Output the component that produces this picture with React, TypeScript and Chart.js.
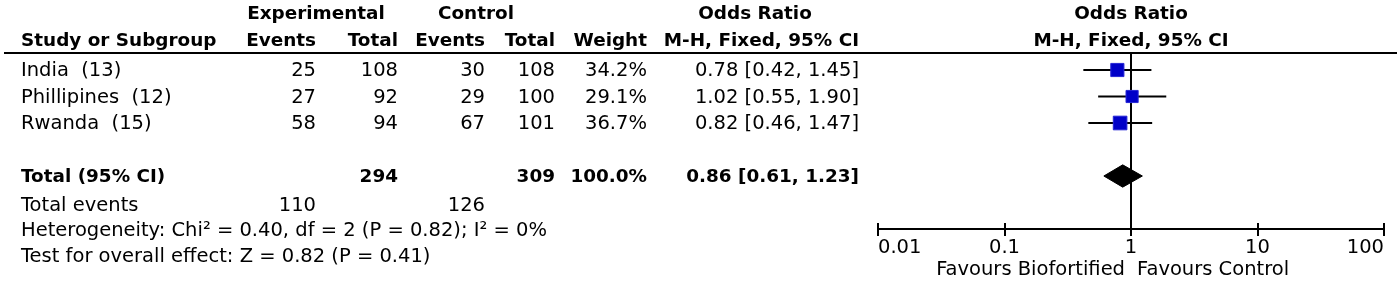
import React, { useEffect, useRef } from 'react';
import { Chart, registerables } from 'chart.js';

Chart.register(...registerables);

// ---------- data ----------
const studies = ['India  (13)', 'Phillipines  (12)', 'Rwanda  (15)'];
const expEvents = [25, 27, 58];
const expTotals = [108, 92, 94];
const ctrlEvents = [30, 29, 67];
const ctrlTotals = [108, 100, 101];
const weights = [34.2, 29.1, 36.7];
const oddsRatios = [0.78, 1.02, 0.82];
const ciLower = [0.42, 0.55, 0.46];
const ciUpper = [1.45, 1.9, 1.47];

const totalLabel = 'Total (95% CI)';
const totalExpTotal = 294;
const totalCtrlTotal = 309;
const totalWeight = 100.0;
const totalOR = 0.86;
const totalLower = 0.61;
const totalUpper = 1.23;
const totalExpEvents = 110;
const totalCtrlEvents = 126;
const heterogeneityText = 'Heterogeneity: Chi\u00B2 = 0.40, df = 2 (P = 0.82); I\u00B2 = 0%';
const overallEffectText = 'Test for overall effect: Z = 0.82 (P = 0.41)';

const tickValues = [0.01, 0.1, 1, 10, 100];
const tickLabels = ['0.01', '0.1', '1', '10', '100'];
const favoursLeft = 'Favours Biofortified';
const favoursRight = 'Favours Control';

// row slots on the plot's y scale (row 4 is the blank spacer)
const studyRows = [1, 2, 3];
const totalRow = 5;

// ---------- layout ----------
const W = 1400;
const H = 281;
const FONT = '"DejaVu Sans", sans-serif';
const REG = 19.5;
const BOLD = 18.4;
const ROW0 = 70;
const PITCH = 26.5;
const HEADER_LINE_Y = 53;
const AXIS_Y = 229;
const PLOT_LEFT = 878;
const PLOT_RIGHT = 1384;
const COL = { expEvents: 316, expTotal: 398, ctrlEvents: 485, ctrlTotal: 555, weight: 647, or: 859 };
const rowY = (r: number) => ROW0 + (r - 1) * PITCH;

const fmt2 = (v: number) => v.toFixed(2);
const orText = (o: number, l: number, h: number) => `${fmt2(o)} [${fmt2(l)}, ${fmt2(h)}]`;

function T({ x, y, align = 'left', bold = false, children }: any) {
  const style: any = {
    position: 'absolute',
    top: y - 12,
    height: 24,
    lineHeight: '24px',
    whiteSpace: 'pre',
    fontSize: bold ? BOLD : REG,
    fontWeight: bold ? 700 : 400,
  };
  if (align === 'left') style.left = x;
  else if (align === 'right') style.right = W - x;
  else {
    style.left = x - 200;
    style.width = 400;
    style.textAlign = 'center';
  }
  return <div style={style}>{children}</div>;
}

const forestPlugin = {
  id: 'forestExtras',
  beforeDatasetsDraw(chart: any) {
    const { ctx, chartArea, scales } = chart;
    const x1 = Math.round(scales.x.getPixelForValue(1));
    ctx.save();
    ctx.strokeStyle = '#000';
    ctx.lineWidth = 2;
    ctx.beginPath();
    ctx.moveTo(x1, chartArea.top);
    ctx.lineTo(x1, chartArea.bottom);
    ctx.stroke();
    ctx.restore();
  },
  afterDraw(chart: any) {
    const { ctx, chartArea, scales } = chart;
    const xs = scales.x;
    ctx.save();
    ctx.strokeStyle = '#000';
    ctx.lineWidth = 2;
    xs.ticks.forEach((t: any) => {
      const px = Math.round(xs.getPixelForValue(t.value));
      ctx.beginPath();
      ctx.moveTo(px, chartArea.bottom - 6);
      ctx.lineTo(px, chartArea.bottom + 7);
      ctx.stroke();
    });
    const x1 = xs.getPixelForValue(1);
    ctx.fillStyle = '#000';
    ctx.font = `${REG}px ${FONT}`;
    ctx.textBaseline = 'middle';
    ctx.textAlign = 'right';
    ctx.fillText(favoursLeft, x1 - 6, 270);
    ctx.textAlign = 'left';
    ctx.fillText(favoursRight, x1 + 6, 270);
    ctx.restore();
  },
};

export default function App() {
  const canvasRef = useRef<HTMLCanvasElement>(null);

  useEffect(() => {
    const canvas = canvasRef.current;
    if (!canvas) return;
    Chart.defaults.font.family = FONT;
    Chart.defaults.color = '#000';

    const ciSets = studies.map((s, i) => ({
      label: s,
      data: [
        { x: ciLower[i], y: studyRows[i] },
        { x: ciUpper[i], y: studyRows[i] },
      ],
      showLine: true,
      borderColor: '#000',
      borderWidth: 2,
      pointRadius: 0,
      fill: false,
      order: 2,
    }));

    const squares = {
      label: 'Studies',
      data: oddsRatios.map((v, i) => ({ x: v, y: studyRows[i] })),
      pointStyle: 'rect',
      pointRadius: weights.map((w) => (Math.sqrt(w) * 2.25) / Math.SQRT2),
      backgroundColor: '#0000C8',
      borderColor: '#2626D6',
      borderWidth: 1,
      showLine: false,
      order: 0,
    };

    const dh = 0.42;
    const diamond = {
      label: 'Total',
      data: [
        { x: totalLower, y: totalRow },
        { x: totalOR, y: totalRow - dh },
        { x: totalUpper, y: totalRow },
        { x: totalOR, y: totalRow + dh },
        { x: totalLower, y: totalRow },
      ],
      showLine: true,
      fill: 'shape',
      backgroundColor: '#000',
      borderColor: '#000',
      borderWidth: 1,
      pointRadius: 0,
      tension: 0,
      order: 1,
    };

    const yMin = 1 - (ROW0 - HEADER_LINE_Y) / PITCH;
    const yMax = 1 + (AXIS_Y - ROW0) / PITCH;

    const chart = new Chart(canvas, {
      type: 'scatter',
      data: { datasets: [...ciSets, diamond, squares] as any },
      options: {
        animation: false,
        responsive: false,
        devicePixelRatio: 1,
        layout: { padding: { left: PLOT_LEFT, right: W - PLOT_RIGHT, top: HEADER_LINE_Y, bottom: H - AXIS_Y - 30 } },
        plugins: { legend: { display: false }, tooltip: { enabled: false }, title: { display: false } },
        scales: {
          x: {
            type: 'logarithmic',
            position: 'bottom',
            min: tickValues[0],
            max: tickValues[tickValues.length - 1],
            afterBuildTicks: (scale: any) => {
              scale.ticks = tickValues.map((v) => ({ value: v }));
            },
            afterFit: (scale: any) => {
              scale.height = 30;
            },
            grid: { display: false, drawTicks: false },
            border: { display: true, color: '#000', width: 2 },
            ticks: {
              autoSkip: false,
              maxRotation: 0,
              align: 'inner',
              padding: 7,
              color: '#000',
              font: { size: REG, family: FONT },
              callback: (_v: any, i: number) => tickLabels[i],
            },
          },
          y: {
            type: 'linear',
            reverse: true,
            min: yMin,
            max: yMax,
            display: false,
          },
        },
      } as any,
      plugins: [forestPlugin],
    });
    return () => chart.destroy();
  }, []);

  return (
    <div
      style={{
        position: 'fixed',
        left: 0,
        top: 0,
        width: W,
        height: H,
        background: '#fff',
        color: '#000',
        fontFamily: FONT,
        overflow: 'hidden',
      }}
    >
      <canvas ref={canvasRef} width={W} height={H} style={{ position: 'absolute', left: 0, top: 0, width: W, height: H }} />

      {/* header row 1 */}
      <T x={316} y={13} align="center" bold>Experimental</T>
      <T x={476} y={13} align="center" bold>Control</T>
      <T x={755} y={13} align="center" bold>Odds Ratio</T>
      <T x={1131} y={13} align="center" bold>Odds Ratio</T>

      {/* header row 2 */}
      <T x={21} y={40} bold>Study or Subgroup</T>
      <T x={COL.expEvents} y={40} align="right" bold>Events</T>
      <T x={COL.expTotal} y={40} align="right" bold>Total</T>
      <T x={COL.ctrlEvents} y={40} align="right" bold>Events</T>
      <T x={COL.ctrlTotal} y={40} align="right" bold>Total</T>
      <T x={COL.weight} y={40} align="right" bold>Weight</T>
      <T x={COL.or} y={40} align="right" bold>M-H, Fixed, 95% CI</T>
      <T x={1131} y={40} align="center" bold>M-H, Fixed, 95% CI</T>

      <div style={{ position: 'absolute', left: 4, top: HEADER_LINE_Y - 1, width: 1393, height: 2, background: '#000' }} />

      {studies.map((s, i) => {
        const y = rowY(studyRows[i]);
        return (
          <React.Fragment key={s}>
            <T x={21} y={y}>{s}</T>
            <T x={COL.expEvents} y={y} align="right">{String(expEvents[i])}</T>
            <T x={COL.expTotal} y={y} align="right">{String(expTotals[i])}</T>
            <T x={COL.ctrlEvents} y={y} align="right">{String(ctrlEvents[i])}</T>
            <T x={COL.ctrlTotal} y={y} align="right">{String(ctrlTotals[i])}</T>
            <T x={COL.weight} y={y} align="right">{`${weights[i].toFixed(1)}%`}</T>
            <T x={COL.or} y={y} align="right">{orText(oddsRatios[i], ciLower[i], ciUpper[i])}</T>
          </React.Fragment>
        );
      })}

      <T x={21} y={rowY(totalRow)} bold>{totalLabel}</T>
      <T x={COL.expTotal} y={rowY(totalRow)} align="right" bold>{String(totalExpTotal)}</T>
      <T x={COL.ctrlTotal} y={rowY(totalRow)} align="right" bold>{String(totalCtrlTotal)}</T>
      <T x={COL.weight} y={rowY(totalRow)} align="right" bold>{`${totalWeight.toFixed(1)}%`}</T>
      <T x={COL.or} y={rowY(totalRow)} align="right" bold>{orText(totalOR, totalLower, totalUpper)}</T>

      <T x={21} y={205}>Total events</T>
      <T x={COL.expEvents} y={205} align="right">{String(totalExpEvents)}</T>
      <T x={COL.ctrlEvents} y={205} align="right">{String(totalCtrlEvents)}</T>
      <T x={21} y={230}>{heterogeneityText}</T>
      <T x={21} y={256}>{overallEffectText}</T>
    </div>
  );
}
